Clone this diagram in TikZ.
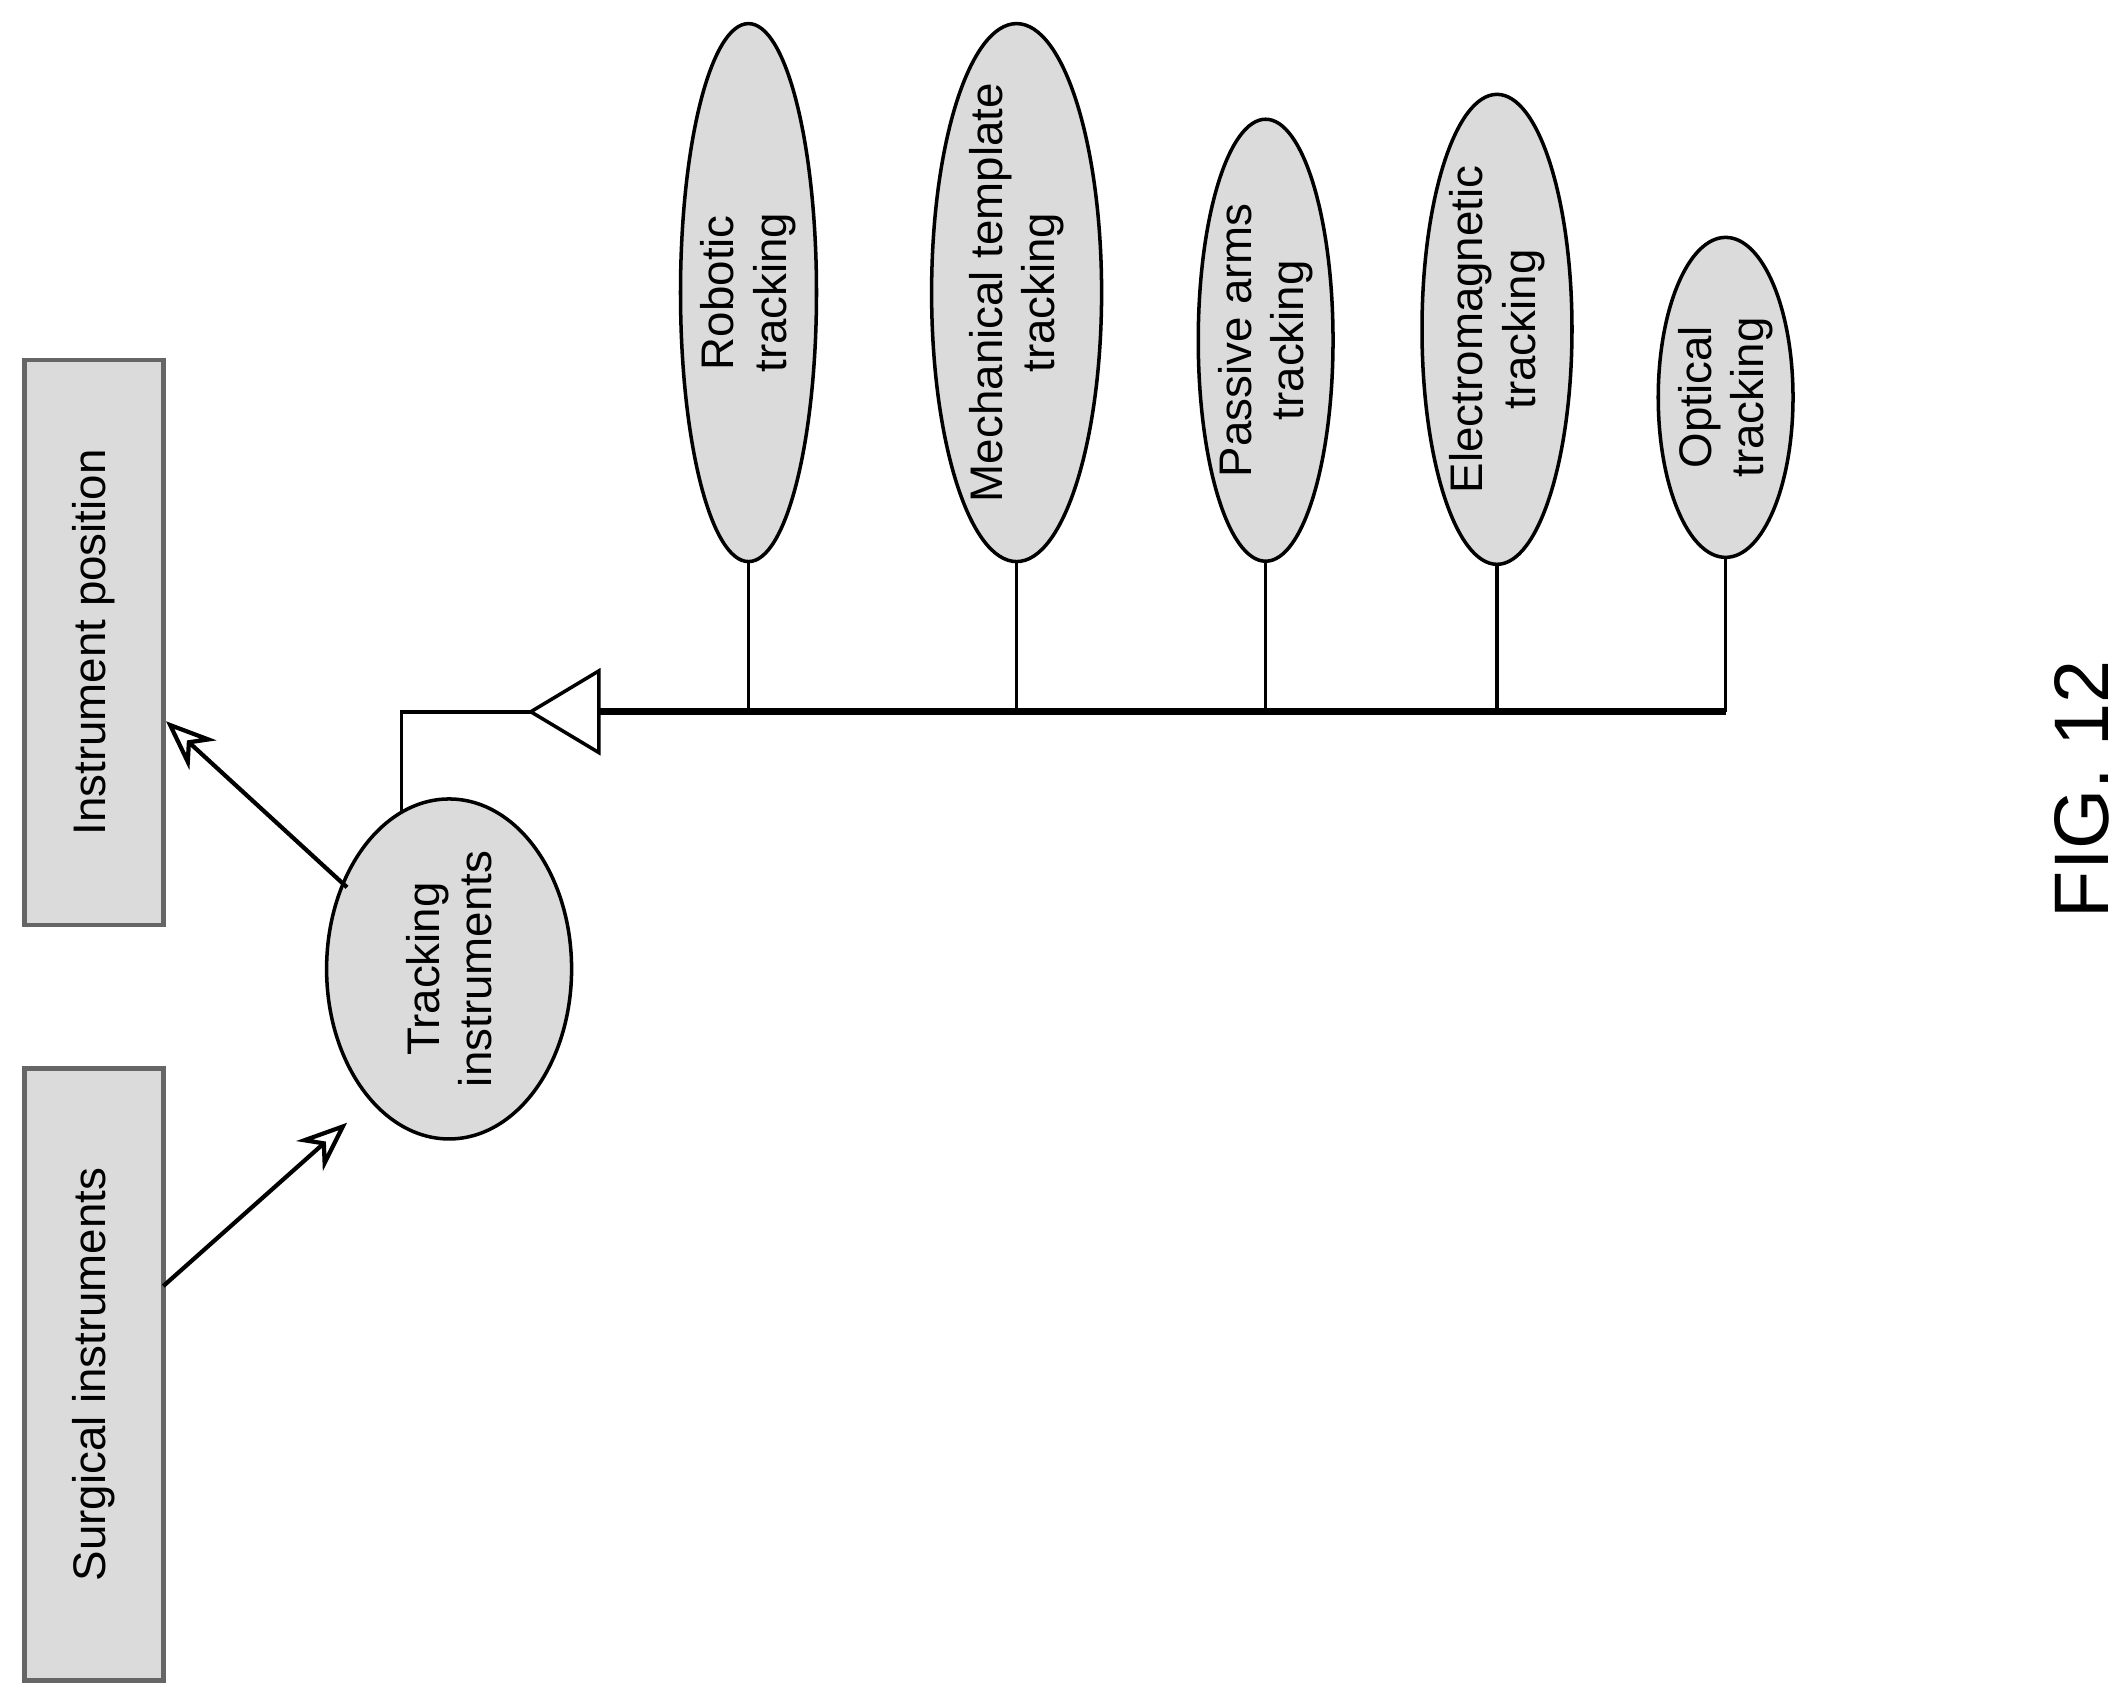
\documentclass[tikz,border=0pt]{standalone}
\usepackage{fontspec}
\setmainfont{Liberation Sans}
\usetikzlibrary{shapes.geometric,arrows.meta}
\tikzset{
  box/.style={draw=black!60,line width=1.2pt,fill=gray!28,rotate=90,inner sep=0pt,font=\fontsize{13}{15}\selectfont},
  oval/.style={ellipse,draw,line width=1pt,fill=gray!28,rotate=90,inner sep=0pt,align=center,font=\fontsize{13}{15}\selectfont},
  arr/.style={line width=1.2pt,-{Stealth[open,length=5mm,width=4mm]}}
}
\begin{document}
\begin{tikzpicture}[x=0.1361mm,y=-0.1361mm]
\useasboundingbox (0,0) rectangle (1560,1247);
% boxes
\node[box,minimum width=6.12cm,minimum height=1.39cm] (sur) at (69,1010) {Surgical instruments};
\node[box,minimum width=5.65cm,minimum height=1.39cm] (pos) at (69,472) {Instrument position};
\node[oval,minimum width=3.4cm,minimum height=2.45cm] (trk) at (330,712) {Tracking\\instruments};
% tracking types
\node[oval,minimum width=5.38cm,minimum height=1.36cm] (rob) at (550,215) {Robotic\\tracking};
\node[oval,minimum width=5.38cm,minimum height=1.70cm] (mec) at (747,215) {};
\node[rotate=90,align=center,font=\fontsize{13}{15}\selectfont] (mect) at (mec) {Mechanical template\\tracking};
\node[oval,minimum width=4.42cm,minimum height=1.31cm] (pas) at (930,250) {Passive arms\\tracking};
\node[oval,minimum width=4.70cm,minimum height=1.50cm] (ele) at (1100,242) {Electromagnetic\\tracking};
\node[oval,minimum width=3.20cm,minimum height=1.27cm] (opt) at (1268,292) {Optical\\tracking};
% arrows
\coordinate (s1) at (120,945);
\coordinate (t1) at (255,825);
\coordinate (t2) at (255,652);
\coordinate (p1) at (122,530);
\draw[arr] (s1) -- (t1);
\draw[arr] (t2) -- (p1);
% generalisation
\coordinate (stub) at (295,597);
\coordinate (tip) at (390,523);
\coordinate (bus) at (440,523);
\draw[line width=1pt] (stub) |- (tip);
\draw[line width=1pt] (tip) -- (440,493) -- (440,553) -- cycle;
\draw[line width=2pt] (bus) -- (opt.west |- bus);
\foreach \n in {rob,mec,pas,ele,opt}
  \draw[line width=1pt] (\n.west) -- (\n.west |- bus);
\node[rotate=90,font=\fontsize{22}{26}\selectfont] (fig) at (1530,580) {FIG. 12};
\end{tikzpicture}
\end{document}
